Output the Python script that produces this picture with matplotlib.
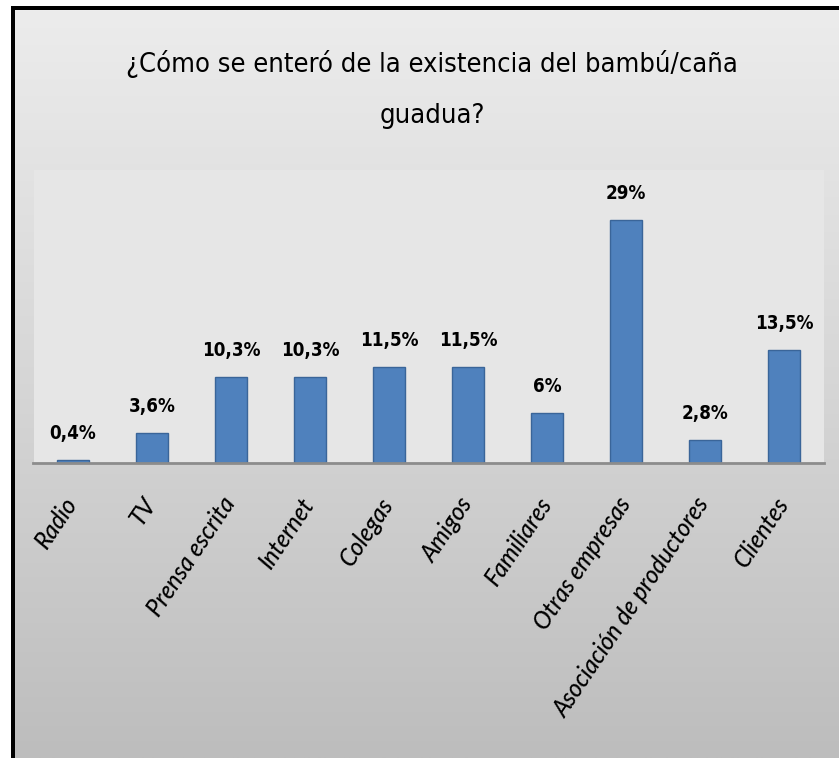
import numpy as np
import matplotlib.pyplot as plt
import matplotlib.transforms as mtransforms
from matplotlib.colors import LinearSegmentedColormap
from matplotlib.patches import Rectangle

categorias = ["Radio", "TV", "Prensa escrita", "Internet", "Colegas", "Amigos",
              "Familiares", "Otras empresas", "Asociación de productores", "Clientes"]
porcentajes = [0.4, 3.6, 10.3, 10.3, 11.5, 11.5, 6, 29, 2.8, 13.5]
etiquetas = ["0,4%", "3,6%", "10,3%", "10,3%", "11,5%", "11,5%", "6%", "29%", "2,8%", "13,5%"]

plt.rcParams["font.family"] = ["DejaVu Sans"]
plt.rcParams["font.stretch"] = "condensed"

W, H = 839, 758
fig = plt.figure(figsize=(W / 100, H / 100), dpi=100)
fig.patch.set_facecolor("white")

# fondo del grafico con degradado vertical
x0, y0 = 14, 10
bg = fig.add_axes([x0 / W, 0, 1 - x0 / W, (H - y0) / H])
grad = np.linspace(0, 1, 256).reshape(-1, 1)
grad = np.concatenate([grad, grad], axis=1)
cmap = LinearSegmentedColormap.from_list("fondo", ["#ececec", "#d6d6d6", "#bdbdbd"])
bg.imshow(grad, aspect="auto", cmap=cmap, extent=[0, 1, 0, 1], origin="upper")
bg.set_axis_off()

# marco negro
fig.patches.append(Rectangle((11 / W, 0), 3.5 / W, (H - 6) / H, transform=fig.transFigure,
                             facecolor="black", edgecolor="none", zorder=5))
fig.patches.append(Rectangle((11 / W, (H - 10) / H), 1 - 11 / W, 4 / H, transform=fig.transFigure,
                             facecolor="black", edgecolor="none", zorder=5))

fig.text(432 / W, 1 - 64 / H, "¿Cómo se enteró de la existencia del bambú/caña",
         ha="center", va="center", fontsize=19.5)
fig.text(432 / W, 1 - 116 / H, "guadua?", ha="center", va="center", fontsize=19.5)

ax = fig.add_axes([33.5 / W, (H - 463) / H, 790 / W, 293 / H])
ax.set_facecolor("#e6e6e6")
x = np.arange(len(categorias))
ax.bar(x, porcentajes, width=0.41, color="#4f81bd", edgecolor="#3a6599", linewidth=1)
ax.set_xlim(-0.5, len(categorias) - 0.5)
ax.set_ylim(0, 35)
for i, v in enumerate(porcentajes):
    ax.annotate(etiquetas[i], (x[i], v), xytext=(0, 15), textcoords="offset points",
                ha="center", va="baseline", fontsize=13.5, fontweight="bold")

for s in ["top", "right", "left"]:
    ax.spines[s].set_visible(False)
ax.spines["bottom"].set_color("#8c8c8c")
ax.spines["bottom"].set_linewidth(2)
ax.set_yticks([])
ax.set_xticks(x)
ax.tick_params(axis="x", length=0, pad=0)
ax.set_xticklabels(categorias, rotation=56, ha="right", va="top", rotation_mode="anchor",
                   fontsize=17, family=["Lato", "DejaVu Sans"], style="italic",
                   fontstretch="normal", fontweight="medium")
off = mtransforms.ScaledTranslation(-10 / 100, -30 / 100, fig.dpi_scale_trans)
for lab in ax.get_xticklabels():
    lab.set_transform(lab.get_transform() + off)

fig.savefig("out.png", dpi=100)
